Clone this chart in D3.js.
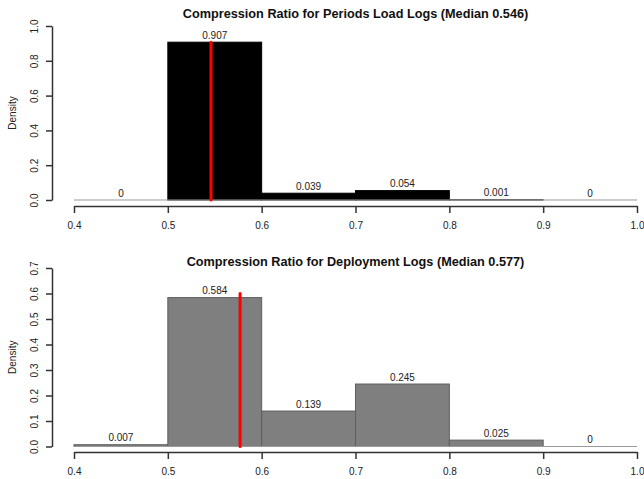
<!DOCTYPE html>
<html lang="en">
<head>
    <meta charset="UTF-8">
    <title>Compression Ratio Histograms</title>
    <script src="https://cdnjs.cloudflare.com/ajax/libs/d3/7.8.5/d3.min.js"></script>
    <style>
        body {
            margin: 0;
            background-color: white;
            font-family: "Liberation Sans", Arial, sans-serif;
        }
        .axis path, .axis line {
            stroke: #333;
            stroke-width: 1.5;
        }
        .axis text {
            font-family: "Liberation Sans", Arial, sans-serif;
            font-size: 10px;
            fill: #222;
        }
    </style>
</head>
<body>
    <div id="chart"></div>

    <script>
        // Bin edges (shared by both histograms)
        const binStarts = [0.4, 0.5, 0.6, 0.7, 0.8, 0.9];
        const binWidth = 0.1;
        const xTicks = [0.4, 0.5, 0.6, 0.7, 0.8, 0.9, 1.0];

        // Periods load logs
        const periodsTitle = "Compression Ratio for Periods Load Logs (Median 0.546)";
        const periodsDensity = [0, 0.907, 0.039, 0.054, 0.001, 0];
        const periodsLabels = ["0", "0.907", "0.039", "0.054", "0.001", "0"];
        const periodsMedian = 0.546;
        const periodsMedianTop = 0.907;
        const periodsYTicks = [0, 0.2, 0.4, 0.6, 0.8, 1.0];

        // Deployment logs
        const deployTitle = "Compression Ratio for Deployment Logs (Median 0.577)";
        const deployDensity = [0.007, 0.584, 0.139, 0.245, 0.025, 0];
        const deployLabels = ["0.007", "0.584", "0.139", "0.245", "0.025", "0"];
        const deployMedian = 0.577;
        const deployMedianTop = 0.6;
        const deployYTicks = [0, 0.1, 0.2, 0.3, 0.4, 0.5, 0.6, 0.7];

        const width = 644, height = 479;

        const svg = d3.select("#chart")
            .append("svg")
            .attr("width", width)
            .attr("height", height);

        const x = d3.scaleLinear().domain([0.4, 1.0]).range([74, 637]);

        function drawPanel(opts) {
            const y = d3.scaleLinear()
                .domain([0, opts.yMax])
                .range([opts.y0, opts.yTop]);

            const g = svg.append("g");

            // title
            g.append("text")
                .attr("x", (x(0.4) + x(1.0)) / 2)
                .attr("y", opts.titleY)
                .attr("text-anchor", "middle")
                .attr("font-weight", "bold")
                .attr("font-size", "12.7px")
                .attr("fill", "#111")
                .text(opts.title);

            // bars
            g.selectAll(".bar")
                .data(opts.density)
                .enter().append("rect")
                .attr("class", "bar")
                .attr("x", (d, i) => x(binStarts[i]))
                .attr("width", (d, i) => x(binStarts[i] + binWidth) - x(binStarts[i]))
                .attr("y", d => y(d))
                .attr("height", d => y(0) - y(d))
                .attr("fill", opts.fill)
                .attr("stroke", opts.border)
                .attr("stroke-width", 1);

            // baseline where empty bins collapse
            g.append("line")
                .attr("x1", x(0.4))
                .attr("x2", x(1.0))
                .attr("y1", y(0))
                .attr("y2", y(0))
                .attr("stroke", "#9a9a9a")
                .attr("stroke-width", 1.2);

            // value labels
            g.selectAll(".lbl")
                .data(opts.density)
                .enter().append("text")
                .attr("class", "lbl")
                .attr("x", (d, i) => x(binStarts[i] + binWidth / 2))
                .attr("y", d => y(d) - 3.5)
                .attr("text-anchor", "middle")
                .attr("font-size", "10px")
                .attr("fill", "#222")
                .text((d, i) => opts.labels[i]);

            // median line
            g.append("line")
                .attr("x1", x(opts.median))
                .attr("x2", x(opts.median))
                .attr("y1", y(0))
                .attr("y2", y(opts.medianTop))
                .attr("stroke", "#ff0000")
                .attr("stroke-width", 3)
                .attr("stroke-linecap", "round");

            // x axis
            g.append("g")
                .attr("class", "axis")
                .attr("transform", `translate(0,${opts.xAxisY})`)
                .call(d3.axisBottom(x).tickValues(xTicks).tickFormat(d3.format(".1f"))
                    .tickSizeInner(7).tickSizeOuter(0).tickPadding(9));

            // y axis
            const yAxis = g.append("g")
                .attr("class", "axis")
                .attr("transform", "translate(52,0)")
                .call(d3.axisLeft(y).tickValues(opts.yTicks).tickFormat(d3.format(".1f"))
                    .tickSizeInner(6).tickSizeOuter(0));
            yAxis.selectAll(".tick text")
                .attr("transform", "rotate(-90)")
                .attr("x", 0)
                .attr("y", -14)
                .attr("dy", "0")
                .attr("text-anchor", "middle");

            // y label
            g.append("text")
                .attr("transform", `translate(16,${(opts.y0 + opts.yTop) / 2}) rotate(-90)`)
                .attr("text-anchor", "middle")
                .attr("font-size", "10px")
                .attr("fill", "#222")
                .text("Density");
        }

        drawPanel({
            title: periodsTitle, titleY: 18,
            density: periodsDensity, labels: periodsLabels,
            median: periodsMedian, medianTop: periodsMedianTop,
            yTicks: periodsYTicks, yMax: 1.0,
            y0: 200, yTop: 26, xAxisY: 206,
            fill: "#000000", border: "#000000"
        });

        drawPanel({
            title: deployTitle, titleY: 266,
            density: deployDensity, labels: deployLabels,
            median: deployMedian, medianTop: deployMedianTop,
            yTicks: deployYTicks, yMax: 0.7,
            y0: 446.5, yTop: 268, xAxisY: 452,
            fill: "#7f7f7f", border: "#5e5e5e"
        });
    </script>
</body>
</html>
